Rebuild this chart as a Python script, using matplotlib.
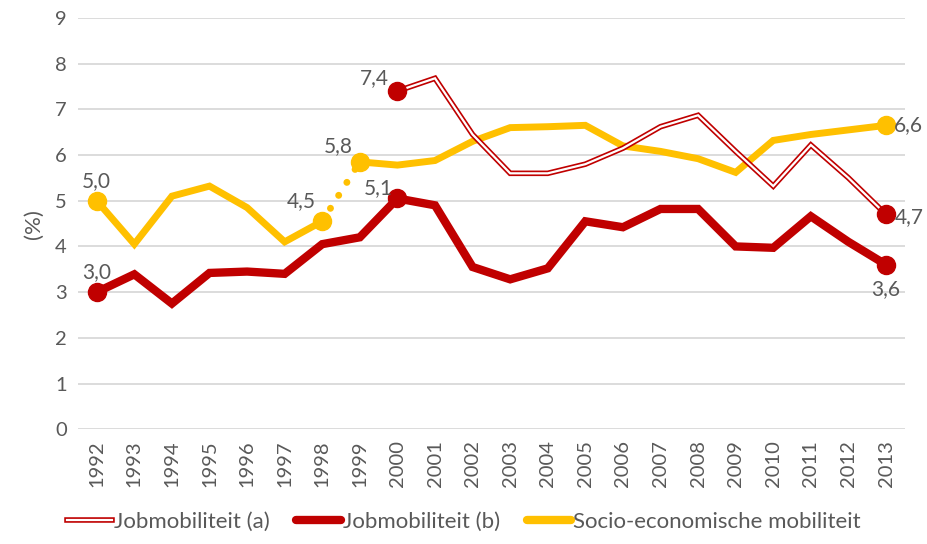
import matplotlib
matplotlib.use("Agg")
import matplotlib.pyplot as plt
from matplotlib.lines import Line2D
from matplotlib.legend_handler import HandlerTuple

plt.rcParams['font.family'] = ['Lato', 'DejaVu Sans']

years = list(range(1992, 2014))

job_a_years = list(range(2000, 2014))
job_a = [7.4, 7.68, 6.45, 5.6, 5.6, 5.8, 6.15, 6.62, 6.87, 6.08, 5.32, 6.22, 5.5, 4.7]

job_b = [3.0, 3.39, 2.75, 3.42, 3.45, 3.4, 4.05, 4.2, 5.05, 4.9, 3.55, 3.28, 3.52, 4.55,
         4.42, 4.82, 4.82, 4.0, 3.97, 4.66, 4.1, 3.6]

socio = [5.0, 4.05, 5.1, 5.32, 4.85, 4.1, 4.55, 5.85, 5.78, 5.88, 6.3, 6.6, 6.62, 6.65,
         6.2, 6.08, 5.92, 5.62, 6.32, 6.45, 6.55, 6.65]

RED = '#C00000'
YEL = '#FFC000'
TXT = '#595959'

fig = plt.figure(figsize=(9.28, 5.44), dpi=100)
ax = fig.add_axes([0.084, 0.211, 0.891, 0.756])

# socio-economische mobiliteit: break between 1998 and 1999 (dotted)
ax.plot(years[:7], socio[:7], color=YEL, lw=5, solid_joinstyle='miter', zorder=3)
ax.plot(years[7:], socio[7:], color=YEL, lw=5, solid_joinstyle='miter', zorder=3)
ax.plot(years[6:8], socio[6:8], color=YEL, lw=5, linestyle=(0, (0.01, 2.2)),
        dash_capstyle='round', zorder=3)

# jobmobiliteit (b)
ax.plot(years, job_b, color=RED, lw=6, solid_joinstyle='miter', zorder=4)

# jobmobiliteit (a): double line
ax.plot(job_a_years, job_a, color=RED, lw=4, solid_joinstyle='miter', zorder=5)
ax.plot(job_a_years, job_a, color='white', lw=1.6, solid_joinstyle='miter', zorder=6)

# end markers + labels
def mark(x, y, c, txt, dx, dy, ha='center', va='bottom'):
    ax.plot([x], [y], 'o', color=c, ms=13, zorder=7)
    ax.annotate(txt, (x, y), xytext=(dx, dy), textcoords='offset points',
                ha=ha, va=va, fontsize=15, color=TXT, zorder=8)

mark(1992, socio[0], YEL, '5,0', 0, 7)
mark(1998, socio[6], YEL, '4,5', -5, 7, ha='right')
mark(1999, socio[7], YEL, '5,8', -5, 4, ha='right')
mark(2013, socio[-1], YEL, '6,6', 6, 0, ha='left', va='center')
mark(1992, job_b[0], RED, '3,0', 0, 7)
mark(2000, job_b[8], RED, '5,1', -3, 0, ha='right')
mark(2013, job_b[-1], RED, '3,6', 0, -10, va='top')
mark(2000, job_a[0], RED, '7,4', -6, 2, ha='right')
mark(2013, job_a[-1], RED, '4,7', 6, -2, ha='left', va='center')

ax.set_xlim(1991.5, 2013.5)
ax.set_ylim(0, 9)
ax.set_yticks(range(0, 10))
ax.set_xticks(years)
ax.set_xticklabels([str(y) for y in years], rotation=90)
ax.tick_params(axis='both', length=0, labelsize=14.5, colors=TXT, pad=8)
ax.grid(axis='y', color='#D9D9D9', lw=1.3)
ax.set_axisbelow(True)
for s in ax.spines.values():
    s.set_visible(False)
ax.set_ylabel('(%)', fontsize=16, color=TXT, labelpad=8)

handles = [
    (Line2D([], [], color=RED, lw=4), Line2D([], [], color='white', lw=1.6)),
    Line2D([], [], color=RED, lw=6, solid_capstyle='round'),
    Line2D([], [], color=YEL, lw=6, solid_capstyle='round'),
]
leg = fig.legend(handles, ['Jobmobiliteit (a)', 'Jobmobiliteit (b)', 'Socio-economische mobiliteit'],
                 loc='lower center', bbox_to_anchor=(0.5, -0.015), ncol=3, frameon=False,
                 fontsize=16, handlelength=2.0, handletextpad=0.1, columnspacing=1.2,
                 handler_map={tuple: HandlerTuple(ndivide=1, pad=0)})
for t in leg.get_texts():
    t.set_color(TXT)

fig.savefig('out.png', dpi=100)
